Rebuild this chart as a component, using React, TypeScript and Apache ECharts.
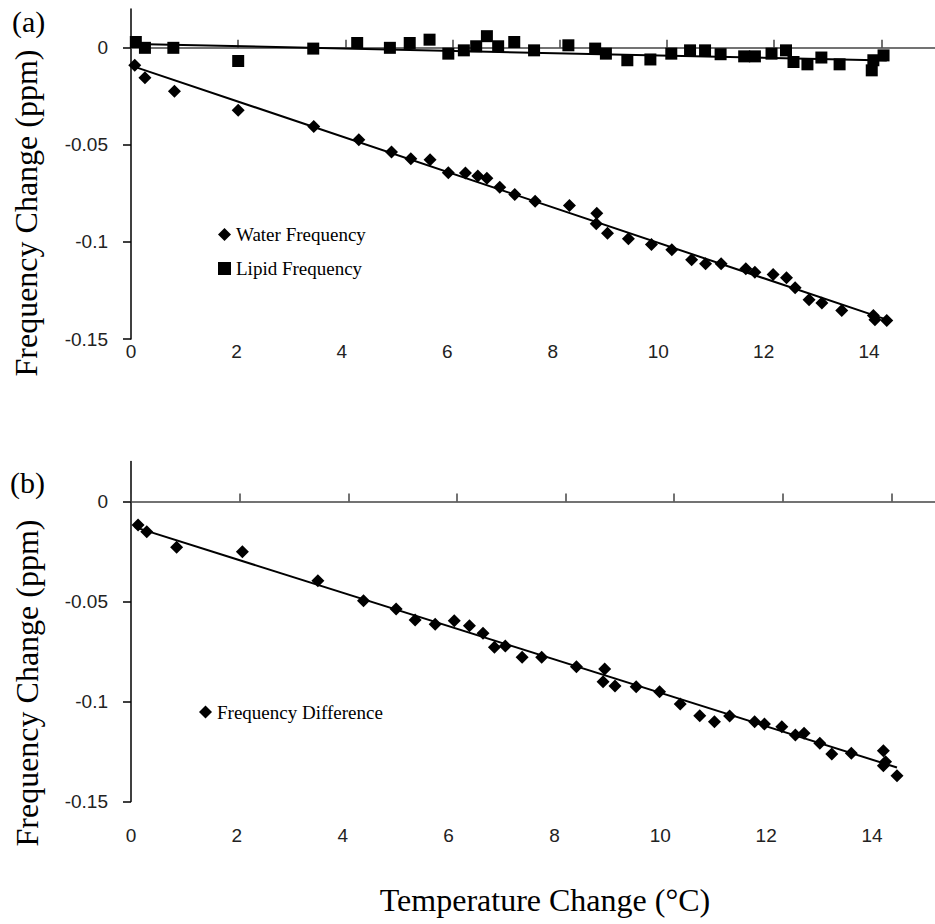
import React, { useEffect, useRef } from "react";
import * as echarts from "echarts";

// ---- Data ----
const waterTemp = [0.07, 0.26, 0.81, 2.0, 3.41, 4.25, 4.86, 5.22, 5.58, 5.92, 6.24, 6.47, 6.64, 6.88, 7.16, 7.54, 8.18, 8.69, 8.68, 8.89, 9.28, 9.71, 10.09, 10.46, 10.72, 11.01, 11.47, 11.64, 11.98, 12.23, 12.39, 12.65, 12.89, 13.26, 13.85, 13.88, 14.1];
const waterFreq = [-0.009, -0.0154, -0.0224, -0.0322, -0.0405, -0.0473, -0.0537, -0.0571, -0.0576, -0.0644, -0.0645, -0.066, -0.0672, -0.0718, -0.0755, -0.0791, -0.0812, -0.0852, -0.0906, -0.0955, -0.0983, -0.1013, -0.104, -0.1092, -0.1112, -0.1112, -0.1138, -0.1156, -0.1168, -0.1185, -0.1236, -0.1298, -0.1315, -0.1353, -0.1379, -0.1401, -0.1405];

const lipidTemp = [0.09, 0.26, 0.79, 2.0, 3.4, 4.22, 4.83, 5.2, 5.57, 5.92, 6.21, 6.44, 6.64, 6.85, 7.15, 7.52, 8.16, 8.66, 8.86, 9.26, 9.69, 10.08, 10.43, 10.71, 11.0, 11.44, 11.64, 11.95, 12.22, 12.36, 12.62, 12.88, 13.22, 13.82, 13.85, 14.04];
const lipidFreq = [0.003, 0.0, 0.0, -0.0068, -0.0004, 0.0025, 0.0, 0.0025, 0.0042, -0.003, -0.0013, 0.0008, 0.006, 0.0008, 0.003, -0.0013, 0.0013, -0.0004, -0.003, -0.0064, -0.006, -0.003, -0.0013, -0.0013, -0.0033, -0.0044, -0.0044, -0.003, -0.0013, -0.0073, -0.0085, -0.005, -0.0085, -0.0116, -0.0064, -0.0039];

const diffTemp = [0.13, 0.29, 0.84, 2.05, 3.44, 4.28, 4.88, 5.23, 5.6, 5.95, 6.23, 6.48, 6.69, 6.89, 7.2, 7.56, 8.2, 8.72, 8.69, 8.91, 9.3, 9.73, 10.11, 10.47, 10.74, 11.02, 11.48, 11.66, 11.98, 12.23, 12.39, 12.68, 12.9, 13.26, 13.85, 13.89, 13.85, 14.1];
const diffFreq = [-0.0118, -0.0151, -0.0229, -0.0251, -0.0396, -0.0496, -0.0538, -0.0593, -0.0614, -0.0596, -0.0621, -0.0659, -0.0729, -0.0723, -0.0779, -0.0779, -0.0826, -0.0838, -0.0901, -0.0923, -0.0926, -0.0951, -0.1013, -0.1071, -0.1101, -0.1073, -0.1101, -0.1113, -0.1126, -0.1168, -0.1159, -0.1209, -0.1263, -0.1259, -0.1246, -0.1301, -0.1321, -0.1371];

// Trend lines
const waterFitTemp = [0.07, 7.3, 14.1];
const waterFitFreq = [-0.0098, -0.0769, -0.14];
const lipidFitTemp = [0.07, 14.1];
const lipidFitFreq = [0.002, -0.0065];
const diffFitTemp = [0.07, 14.1];
const diffFitFreq = [-0.0128, -0.133];

const xTicks = [0, 2, 4, 6, 8, 10, 12, 14];
const yTicks = [-0.15, -0.1, -0.05, 0];

const seriesNames = ["Water Frequency", "Lipid Frequency", "Frequency Difference"];
const panelLabels = ["(a)", "(b)"];
const yTitle = "Frequency Change (ppm)";
const xTitle = "Temperature Change (°C)";

const zip = (a: number[], b: number[]) => a.map((v, i) => [v, b[i]]);

const SERIF = "'Liberation Serif', 'Times New Roman', serif";
const SANS = "'Liberation Sans', Arial, sans-serif";

// label axis (bottom of the panel) + zero-line axis carrying the data
function makeXAxes(grid: number, max: number, labelMax: number, labelMargin: number) {
  return [
    {
      gridIndex: grid,
      type: "value",
      min: 0,
      max: labelMax,
      position: "bottom",
      axisLine: { show: false, onZero: false },
      axisTick: { show: false },
      splitLine: { show: false },
      axisLabel: {
        customValues: xTicks,
        margin: labelMargin,
        fontFamily: SANS,
        fontSize: 19,
        lineHeight: 20,
        color: "#222",
      },
    },
    {
      gridIndex: grid,
      type: "value",
      min: 0,
      max,
      position: "top",
      axisLine: { show: true, onZero: true, lineStyle: { color: "#444", width: 1.5 } },
      axisTick: { show: true, customValues: xTicks, length: 8, inside: false, lineStyle: { color: "#444", width: 1.5 } },
      axisLabel: { show: false },
      splitLine: { show: false },
    },
  ];
}

function makeYAxis(grid: number) {
  return {
    gridIndex: grid,
    type: "value",
    min: -0.15,
    max: 0.02,
    position: "left",
    axisLine: { show: true, onZero: false, lineStyle: { color: "#000", width: 1.5 } },
    axisTick: { show: true, customValues: yTicks, length: 8, lineStyle: { color: "#000", width: 1.5 } },
    axisLabel: {
      customValues: yTicks,
      margin: 23,
      fontFamily: SANS,
      fontSize: 19,
      color: "#222",
    },
    splitLine: { show: false },
  };
}

export default function App() {
  const ref = useRef<HTMLDivElement>(null);

  useEffect(() => {
    if (!ref.current) return;
    const chart = echarts.init(ref.current, undefined, { renderer: "svg" });

    const scatterStyle = { color: "#000", opacity: 1 };
    const lineStyle = { color: "#000", width: 2 };

    const option = {
      animation: false,
      backgroundColor: "#fff",
      grid: [
        { left: 131, width: 804, top: 9, height: 330 },
        { left: 131, width: 804, top: 461.5, height: 340 },
      ],
      xAxis: [...makeXAxes(0, 15, 15.25, 2), ...makeXAxes(1, 14.8, 15.19, 24)],
      yAxis: [makeYAxis(0), makeYAxis(1)],
      legend: [
        {
          data: [
            { name: seriesNames[0], icon: "diamond" },
            { name: seriesNames[1], icon: "rect" },
          ],
          orient: "vertical",
          left: 213,
          top: 220,
          itemWidth: 13,
          itemHeight: 13,
          itemGap: 15,
          selectedMode: false,
          textStyle: { fontFamily: SERIF, fontSize: 19, lineHeight: 14, color: "#000" },
        },
        {
          data: [{ name: seriesNames[2], icon: "diamond" }],
          orient: "vertical",
          left: 194,
          top: 697.5,
          itemWidth: 13,
          itemHeight: 13,
          selectedMode: false,
          textStyle: { fontFamily: SERIF, fontSize: 19, lineHeight: 14, color: "#000" },
        },
      ],
      graphic: [
        {
          type: "text",
          left: 12,
          top: 6,
          style: { text: panelLabels[0], fontFamily: SERIF, fontSize: 30, fill: "#000" },
        },
        {
          type: "text",
          left: 10,
          top: 467,
          style: { text: panelLabels[1], fontFamily: SERIF, fontSize: 30, fill: "#000" },
        },
        {
          type: "text",
          x: 26,
          y: 213,
          rotation: Math.PI / 2,
          style: { text: yTitle, fontFamily: SERIF, fontSize: 32, fill: "#000", align: "center", verticalAlign: "middle" },
        },
        {
          type: "text",
          x: 27,
          y: 683,
          rotation: Math.PI / 2,
          style: { text: yTitle, fontFamily: SERIF, fontSize: 32, fill: "#000", align: "center", verticalAlign: "middle" },
        },
        {
          type: "text",
          x: 545,
          y: 900,
          style: { text: xTitle, fontFamily: SERIF, fontSize: 32, fill: "#000", align: "center", verticalAlign: "middle" },
        },
      ],
      series: [
        {
          name: seriesNames[0],
          type: "scatter",
          xAxisIndex: 1,
          yAxisIndex: 0,
          symbol: "diamond",
          symbolSize: 13,
          itemStyle: scatterStyle,
          data: zip(waterTemp, waterFreq),
          z: 3,
        },
        {
          name: seriesNames[1],
          type: "scatter",
          xAxisIndex: 1,
          yAxisIndex: 0,
          symbol: "rect",
          symbolSize: 12,
          itemStyle: scatterStyle,
          data: zip(lipidTemp, lipidFreq),
          z: 3,
        },
        {
          name: "Water Fit",
          type: "line",
          xAxisIndex: 1,
          yAxisIndex: 0,
          showSymbol: false,
          lineStyle,
          data: zip(waterFitTemp, waterFitFreq),
          z: 4,
        },
        {
          name: "Lipid Fit",
          type: "line",
          xAxisIndex: 1,
          yAxisIndex: 0,
          showSymbol: false,
          lineStyle,
          data: zip(lipidFitTemp, lipidFitFreq),
          z: 4,
        },
        {
          name: seriesNames[2],
          type: "scatter",
          xAxisIndex: 3,
          yAxisIndex: 1,
          symbol: "diamond",
          symbolSize: 13,
          itemStyle: scatterStyle,
          data: zip(diffTemp, diffFreq),
          z: 3,
        },
        {
          name: "Difference Fit",
          type: "line",
          xAxisIndex: 3,
          yAxisIndex: 1,
          showSymbol: false,
          lineStyle,
          data: zip(diffFitTemp, diffFitFreq),
          z: 4,
        },
      ],
    };

    chart.setOption(option as any);
    return () => chart.dispose();
  }, []);

  return (
    <div
      ref={ref}
      style={{ position: "absolute", left: 0, top: 0, width: 935, height: 924, background: "#fff" }}
    />
  );
}
